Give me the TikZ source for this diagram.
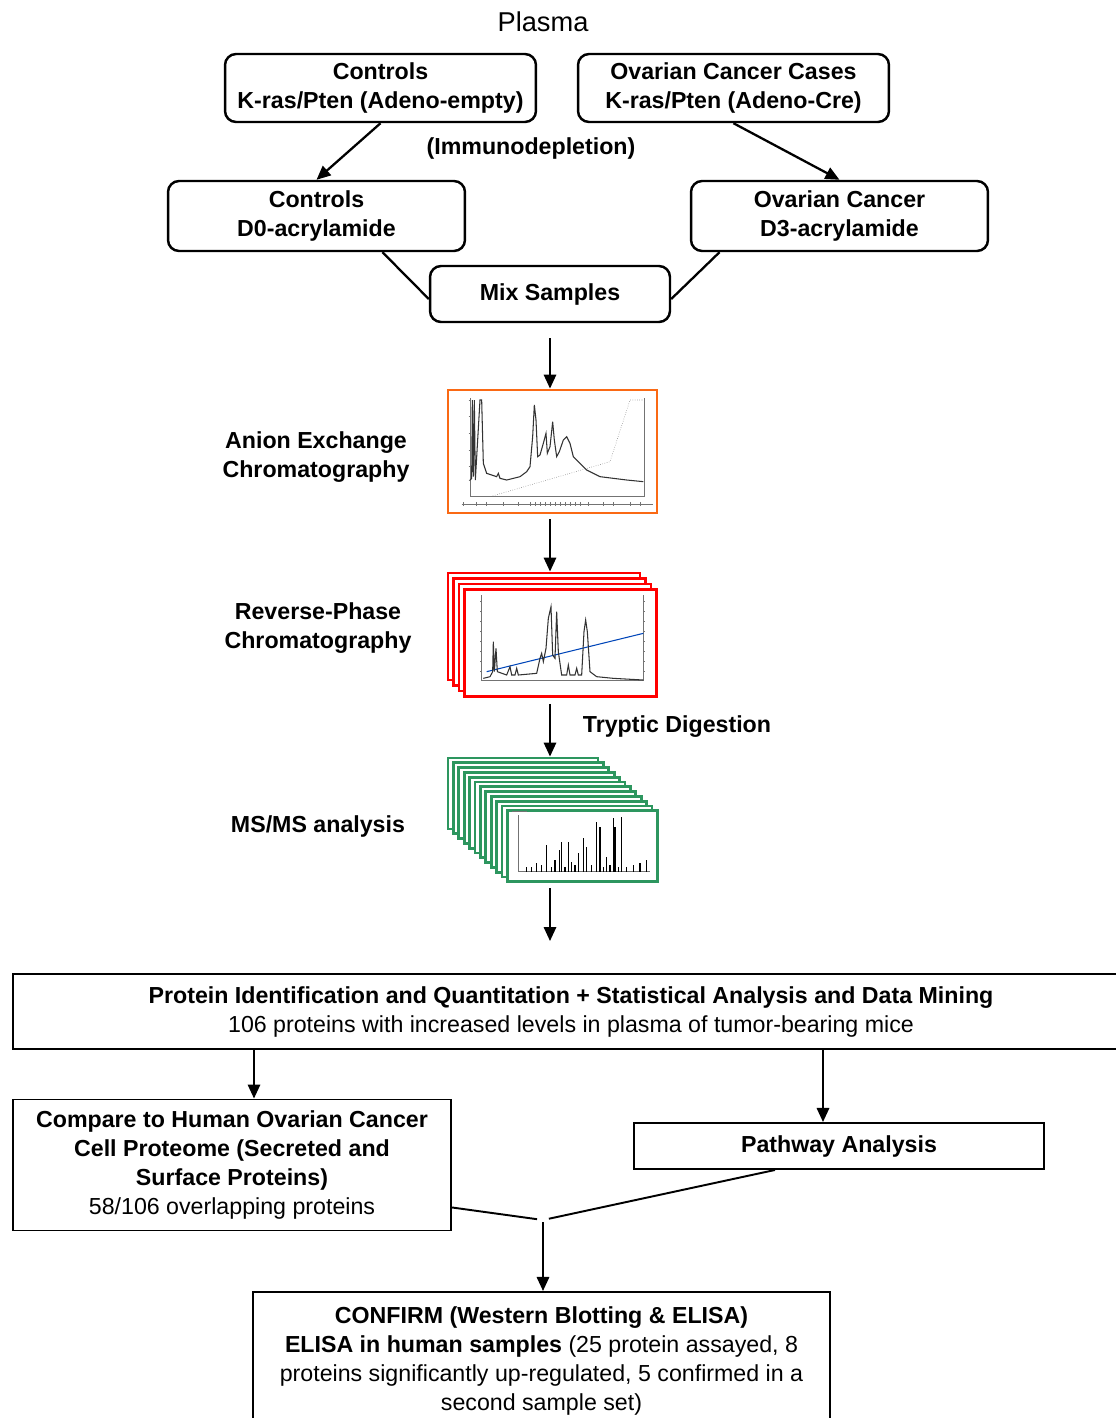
\documentclass[tikz,border=0pt]{standalone}
\usepackage{fontspec}
\setmainfont{Liberation Sans}
\usetikzlibrary{calc,arrows.meta}
\definecolor{aecorange}{RGB}{250,105,20}
\definecolor{msgreen}{RGB}{45,150,95}
\newcommand{\figfont}{\fontsize{13.2}{16.5}\selectfont}

\begin{document}
\begin{tikzpicture}[x=0.02cm,y=-0.02cm,line width=1.3pt,>={Triangle[length=8pt,width=7pt]},
 every node/.style={font=\figfont},
 rbox/.style={draw,rounded corners=0.22cm,line width=1.4pt,align=center,font=\figfont\bfseries},
 sbox/.style={draw,line width=1.1pt,align=center},
 lab/.style={align=center,font=\figfont\bfseries},
 frame/.style={fill=white,line width=1.6pt,inner sep=0pt},
 trace/.style={line width=0.6pt,black!80},
 axis/.style={line width=0.3pt,black!55}]
\useasboundingbox (0,0) rectangle (1116,1418);
\coordinate (col) at (550,0);
\coordinate (a1) at (254,0);
\coordinate (a2) at (823,0);
\coordinate (mrg) at (543,1220);

% samples
\node[font=\fontsize{15.5}{18}\selectfont] (plasma) at (543,22) {Plasma};
\node[rbox,minimum width=6.22cm,minimum height=1.36cm] (ctl1) at (380.5,88) {Controls\\K-ras/Pten (Adeno-empty)};
\node[rbox,minimum width=6.22cm,minimum height=1.36cm] (ovc1) at (733.5,88) {Ovarian Cancer Cases\\K-ras/Pten (Adeno-Cre)};
\node[lab] (immuno) at (531,148) {(Immunodepletion)};
\node[rbox,minimum width=5.94cm,minimum height=1.4cm] (ctl2) at (316.5,216) {Controls\\D0-acrylamide};
\node[rbox,minimum width=5.94cm,minimum height=1.4cm] (ovc2) at (839.5,216) {Ovarian Cancer\\D3-acrylamide};
\node[rbox,minimum width=4.8cm,minimum height=1.12cm] (mix) at (550,294) {Mix Samples};
\draw[->] (ctl1.south) -- (ctl2.north);
\draw[->] (ovc1.south) -- (ovc2.north);
\draw ($(ctl2.south)+(66,0)$) -- ($(mix.west)+(0,5)$);
\draw ($(ovc2.south)+(-120,0)$) -- ($(mix.east)+(0,5)$);

% anion exchange
\node[frame,draw=aecorange,minimum width=4.18cm,minimum height=2.46cm] (aec) at (552.5,451.5) {};
\node[lab] (aeclab) at (316,457) {Anion Exchange\\Chromatography};
\begin{scope}[shift={(440,380)},scale=1/3]
\draw[axis] (90,55) -- (90,350) -- (612,350) -- (612,55);
\draw[axis] (65,372) -- (640,372);
\foreach \t in {70,110,140,190,235,270,285,300,315,330,345,360,375,390,405,420,445,490,520,570,600}{\draw[axis] (\t,366) -- (\t,378);}
\foreach \t in {60,110,160,210,260,300}{\draw[axis] (86,\t) -- (90,\t); \draw[axis] (612,\t) -- (616,\t);}
\draw[axis,densely dotted] (90,350) -- (150,350) -- (510,245) -- (570,60) -- (610,60);
\draw[trace] (90,300) -- (95,295) -- (97,60) -- (100,290) -- (103,60) -- (106,300) -- (120,60) -- (125,60) -- (130,250) -- (140,280) -- (170,290) -- (175,280) -- (180,295) -- (200,300) -- (220,295) -- (240,290) -- (260,275) -- (270,260) -- (278,170) -- (283,75) -- (288,120) -- (293,230) -- (300,225) -- (310,190) -- (318,160) -- (322,220) -- (330,200) -- (338,125) -- (343,180) -- (350,230) -- (358,215) -- (370,180) -- (380,170) -- (390,190) -- (400,230) -- (420,250) -- (440,270) -- (460,280) -- (480,290) -- (520,295) -- (560,300) -- (610,305);
\end{scope}
\draw[->,shorten <=0.3cm] (col |- mix.south) -- (col |- aec.north);

% reverse phase
\foreach \i in {0,...,3}{\node[frame,draw=red,minimum width=3.84cm,minimum height=2.14cm] (rp\i) at (544+5.5*\i,626.5+5.5*\i) {};}
\node[lab] (rplab) at (318,628) {Reverse-Phase\\Chromatography};
\begin{scope}[shift={(440,565)},scale=1/3]
\draw[axis] (125,90) -- (125,345) -- (610,345) -- (610,90);
\foreach \t in {110,140,170,200,230,260,290,320}{\draw[axis] (121,\t) -- (125,\t); \draw[axis] (610,\t) -- (614,\t);}
\draw[line width=0.6pt,blue!45!teal] (140,320) -- (610,205);
\draw[trace] (130,340) -- (150,335) -- (158,320) -- (160,230) -- (163,320) -- (168,250) -- (172,320) -- (200,330) -- (210,305) -- (215,330) -- (225,330) -- (230,310) -- (235,330) -- (290,325) -- (300,280) -- (305,265) -- (310,290) -- (318,250) -- (325,160) -- (333,125) -- (338,270) -- (345,280) -- (350,140) -- (355,260) -- (365,330) -- (380,330) -- (385,300) -- (390,330) -- (405,330) -- (410,310) -- (415,330) -- (425,330) -- (432,200) -- (437,165) -- (442,200) -- (450,320) -- (470,335) -- (520,340) -- (610,345);
\end{scope}
\draw[->,shorten <=0.1cm] (col |- aec.south) -- (col |- rp0.north);

% ms/ms
\foreach \i in {0,...,11}{\node[frame,draw=msgreen,minimum width=3cm,minimum height=1.42cm] (ms\i) at (523+5.4*\i,793.5+4.8*\i) {};}
\node[lab] (tryp) at (677,727) {Tryptic Digestion};
\node[lab] (mslab) at (318,826) {MS/MS analysis};
\begin{scope}[shift={(440,750)},scale=1/3]
\draw[axis] (235,195) -- (235,365) -- (630,365);
\draw[axis] (215,185) -- (260,185);
\foreach \x/\h in {260/350,275/352,290/340,305/345,320/285,335/350,345/330,358/300,365/275,375/350,385/275,395/335,405/345,415/310,430/265,440/290,455/345,470/215,480/230,490/350,500/320,510/345,520/205,525/230,535/350,545/200,560/352,580/345,600/340,620/330}{\draw[line width=0.6pt] (\x,365) -- (\x,\h);}
\end{scope}
\draw[->,shorten <=0.12cm] (col |- rp3.south) -- (col |- ms0.north);

% results
\node[sbox,minimum width=22.32cm,minimum height=1.5cm] (prot) at (571,1011.5) {\textbf{Protein Identification and Quantitation + Statistical Analysis and Data Mining}\\106 proteins with increased levels in plasma of tumor-bearing mice};
\draw[->,shorten <=0.1cm,shorten >=0.64cm] (col |- ms11.south) -- (col |- prot.north);
\node[sbox,minimum width=8.76cm,minimum height=2.62cm] (cmp) at (232,1165) {\textbf{Compare to Human Ovarian Cancer}\\\textbf{Cell Proteome (Secreted and}\\\textbf{Surface Proteins)}\\58/106 overlapping proteins};
\node[sbox,font=\figfont\bfseries,minimum width=8.2cm,minimum height=0.92cm] (path) at (839,1146) {Pathway Analysis};
\node[sbox,anchor=north,minimum width=11.54cm,inner ysep=0.3cm] (conf) at (541.5,1291) {\textbf{CONFIRM (Western Blotting \& ELISA)}\\\textbf{ELISA in human samples} (25 protein assayed, 8\\proteins significantly up-regulated, 5 confirmed in a\\second sample set)};
\draw[->] (a1 |- prot.south) -- (a1 |- cmp.north);
\draw[->] (a2 |- prot.south) -- (a2 |- path.north);
\draw[line width=1.1pt,shorten >=0.12cm] ($(cmp.south east)+(0,-24)$) -- (mrg);
\draw[line width=1.1pt,shorten >=0.12cm] ($(path.south)+(-64,0)$) -- (mrg);
\draw[->,shorten <=0.04cm] (mrg) -- (mrg |- conf.north);
\end{tikzpicture}
\end{document}
